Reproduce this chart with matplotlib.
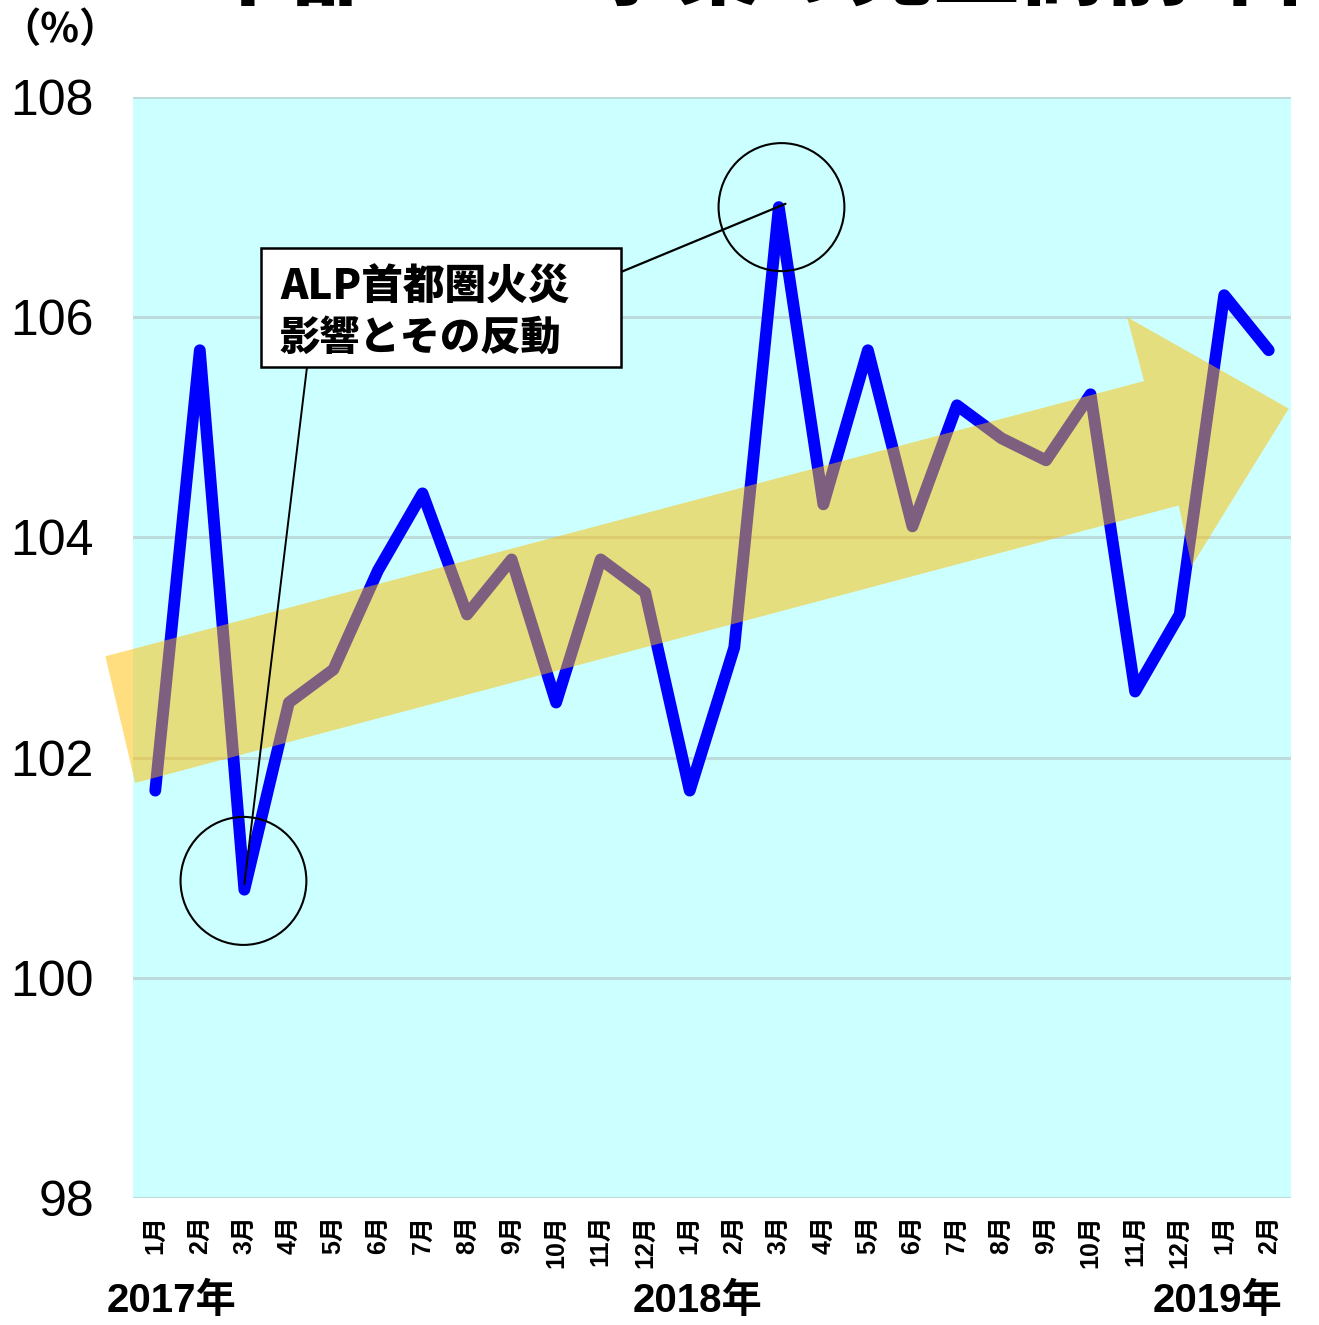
import matplotlib
matplotlib.use("Agg")
import matplotlib.pyplot as plt
from matplotlib.patches import Polygon, Ellipse, Rectangle, ConnectionPatch
from matplotlib import font_manager

names = {f.name for f in font_manager.fontManager.ttflist}
num_family = 'Liberation Sans Narrow' if 'Liberation Sans Narrow' in names else 'Liberation Sans'
plt.rcParams['font.family'] = ['Liberation Sans', 'Noto Sans CJK JP']

# ---- data ----
months = ["1月", "2月", "3月", "4月", "5月", "6月", "7月", "8月", "9月", "10月", "11月", "12月",
          "1月", "2月", "3月", "4月", "5月", "6月", "7月", "8月", "9月", "10月", "11月", "12月",
          "1月", "2月"]
values = [101.7, 105.7, 100.8, 102.5, 102.8, 103.7, 104.4, 103.3, 103.8, 102.5, 103.8, 103.5,
          101.7, 103.0, 107.0, 104.3, 105.7, 104.1, 105.2, 104.9, 104.7, 105.3, 102.6, 103.3,
          106.2, 105.7]
years = ["2017年", "2018年", "2019年"]
year_px = [172, 697, 1218]
yticks = [98, 100, 102, 104, 106, 108]
note = "ALP首都圏火災\n影響とその反動"
title = "中部BtoB事業の売上高前年同月比"

W, H = 1319, 1325
fig = plt.figure(figsize=(W / 100, H / 100), dpi=100)
fig.patch.set_facecolor("white")

def fx(px):
    return px / W

def fy(py):
    return 1 - py / H

ax = fig.add_axes([fx(133), fy(1198), fx(1291) - fx(133), fy(97) - fy(1198)])
ax.set_facecolor("#ccffff")
x = list(range(len(values)))
ax.set_xlim(-0.5, len(values) - 0.5)
ax.set_ylim(98, 108)
for s in ax.spines.values():
    s.set_visible(False)
ax.set_yticks(yticks)
ax.set_yticklabels([str(t) for t in yticks], fontsize=40 if num_family.endswith('Narrow') else 36,
                   family=[num_family, 'Noto Sans CJK JP'])
ax.yaxis.grid(True, color="#bcdcdc", lw=2.2)
ax.set_axisbelow(True)
ax.tick_params(axis="y", length=0, pad=28)
ax.set_xticks(x)
ax.set_xticklabels(months, rotation=90, fontsize=18, fontweight="bold", va="top")
ax.tick_params(axis="x", length=0, pad=12)

# blue line
ax.plot(x, values, color="#0000ff", lw=8.5, solid_joinstyle="round", solid_capstyle="round", zorder=3)

# semi-transparent trend arrow (data coords)
arrow_pts = [(-1.12, 102.92), (22.2, 105.42), (21.82, 106.0), (25.45, 105.17),
             (23.27, 103.74), (22.98, 104.29), (-0.45, 101.77)]
arr = Polygon(arrow_pts, closed=True, facecolor="#ffbe00", edgecolor="none", alpha=0.5,
              zorder=4, clip_on=False)
ax.add_patch(arr)

# circles
for i, dx, dy in ((2, -0.02, 0.08), (14, 0.06, 0.0)):
    e = Ellipse((i + dx, values[i] + dy), width=2 * 63 / 44.6, height=2 * 64 / 110.1,
                facecolor="none", edgecolor="black", lw=1.5, zorder=6)
    ax.add_patch(e)

# annotation box
fig.patches.append(Rectangle((fx(261), fy(367)), fx(621) - fx(261), fy(248) - fy(367),
                             transform=fig.transFigure, facecolor="white", edgecolor="black",
                             lw=1.8, zorder=10))
line1, line2 = note.split("\n")
fig.text(fx(280), fy(288), line1, fontsize=30, fontweight=900, va="center", ha="left",
         zorder=11, family=['Noto Sans CJK JP'])
fig.text(fx(280), fy(338), line2, fontsize=29, fontweight=900, va="center", ha="left",
         zorder=11, family=['Noto Sans CJK JP'])

c1 = ConnectionPatch(xyA=(fx(307), fy(367)), coordsA=fig.transFigure,
                     xyB=(2, values[2] + 0.05), coordsB=ax.transData, color="black", lw=1.4, zorder=2)
c2 = ConnectionPatch(xyA=(fx(621), fy(272)), coordsA=fig.transFigure,
                     xyB=(14.15, values[14] + 0.03), coordsB=ax.transData, color="black", lw=1.6, zorder=6)
fig.add_artist(c1)
fig.add_artist(c2)

# year labels
for yl, xp in zip(years, year_px):
    fig.text(fx(xp), fy(1301), yl, fontsize=29, fontweight="bold", ha="center", va="center",
             family=['Liberation Sans', 'Noto Sans CJK JP'])

# unit label
fig.text(fx(0), fy(30), "（%）", fontsize=29, fontweight="bold", va="center", ha="left",
         family=['Noto Sans CJK JP'])

# cut-off title at the very top
fig.text(fx(205), fy(-2), title, fontsize=62, fontweight=900, va="baseline", ha="left",
         family=['Noto Sans CJK JP'])

fig.savefig("out.png", dpi=100)
